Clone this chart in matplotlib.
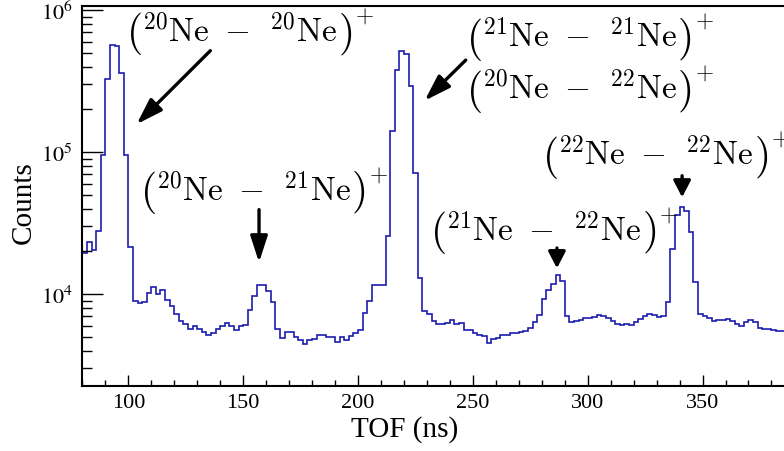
import numpy as np
import matplotlib
matplotlib.use("Agg")
import matplotlib.pyplot as plt
from matplotlib.ticker import LogLocator, MultipleLocator, FixedLocator, FuncFormatter
from matplotlib.transforms import IdentityTransform

plt.rcParams['font.family'] = ['Liberation Serif', 'DejaVu Serif']

# TOF histogram, 2 ns bins starting at 80 ns
bin_edges = np.arange(80, 388, 2)
counts = [
    19500, 23100, 20400, 27900, 95700, 327000, 565000, 555000, 360000, 95700,
    21300, 8980, 8640, 8830, 10100, 11150, 10000, 10670, 9110, 8270,
    7230, 6490, 6150, 5670, 5980, 5670, 5430, 5140, 5310, 5670,
    5980, 6250, 5980, 5610, 5920, 6050, 7720, 9630, 11570, 11500,
    10500, 8830, 5670, 4880, 5370, 5370, 4950, 4770, 4450, 4770,
    4800, 5170, 5170, 4950, 4950, 4620, 5000, 4770, 5100, 5300,
    5550, 7350, 8970, 11570, 11570, 11570, 25500, 141000, 380000, 517000,
    489000, 290000, 71100, 12900, 7630, 7230, 6490, 6150, 6150, 6220,
    6590, 6150, 6220, 5610, 5540, 5310, 5180, 5060, 4520, 4820,
    4870, 5140, 5140, 5310, 5310, 5430, 5520, 5730, 6320, 7110,
    9220, 10670, 11820, 13680, 12410, 6960, 6320, 6420, 6590, 6740,
    6760, 6850, 7110, 6960, 6740, 6420, 6150, 6050, 6150, 6050,
    6380, 6670, 6960, 7230, 7150, 6930, 7030, 8830, 20750, 36000,
    41300, 38200, 27300, 12090, 7230, 6960, 6740, 6490, 6560, 6560,
    6620, 6490, 6150, 5990, 6350, 6560, 6350, 5760, 5670, 5670,
    5600, 5520, 5450,
]

# peak labels (inside the big parentheses), anchored at left edge / paren centre
labels = [
    r'${}^{20}\mathrm{Ne}\,\,-\;\,{}^{20}\mathrm{Ne}$',
    r'${}^{20}\mathrm{Ne}\,\,-\;\,{}^{21}\mathrm{Ne}$',
    r'${}^{21}\mathrm{Ne}\,\,-\;\,{}^{21}\mathrm{Ne}$',
    r'${}^{20}\mathrm{Ne}\,\,-\;\,{}^{22}\mathrm{Ne}$',
    r'${}^{21}\mathrm{Ne}\,\,-\;\,{}^{22}\mathrm{Ne}$',
    r'${}^{22}\mathrm{Ne}\,\,-\;\,{}^{22}\mathrm{Ne}$',
]
label_pos = [(99.2, 6.9e5), (105.0, 5.27e4), (246.9, 6.35e5),
             (246.9, 2.73e5), (231.3, 2.76e4), (280.3, 9.37e4)]

# arrows: (tail, tip, head length)
arrows = [((135.7, 5.17e5), (103.6, 1.57e5), 0.8),
          ((156.9, 3.93e4), (156.9, 1.67e4), 0.8),
          ((246.9, 4.44e5), (229.0, 2.30e5), 0.8),
          ((286.6, 2.11e4), (286.6, 1.52e4), 0.5),
          ((341.1, 6.81e4), (341.1, 4.80e4), 0.5)]

fig = plt.figure(figsize=(7.84, 4.52), dpi=100)
ax = fig.add_axes([0.1051, 0.1431, 0.9375, 0.842])

ax.stairs(counts, bin_edges, baseline=None, color='#1c1cb0', lw=1.2)

ax.set_yscale('log')
ax.set_xlim(80, 400)
ax.set_ylim(2240, 1.072e6)

ax.xaxis.set_major_locator(FixedLocator([100, 150, 200, 250, 300, 350]))
ax.xaxis.set_minor_locator(MultipleLocator(10))
ax.yaxis.set_major_locator(LogLocator(base=10))
ax.yaxis.set_minor_locator(LogLocator(base=10, subs=np.arange(2, 10)))
ax.yaxis.set_minor_formatter(FuncFormatter(lambda v, p: ''))
ax.yaxis.set_major_formatter(FuncFormatter(lambda v, p: r'$10^{%d}$' % round(np.log10(v))))

ax.tick_params(axis='both', which='both', direction='in', top=False, right=False, width=1.0)
ax.tick_params(axis='y', which='major', length=15, pad=7, labelsize=16)
ax.tick_params(axis='y', which='minor', length=7.5)
ax.tick_params(axis='x', which='major', length=7.7, pad=5, labelsize=16)
ax.tick_params(axis='x', which='minor', length=4.1)
for lab in ax.get_yticklabels():
    lab.set_math_fontfamily('stix')

for s in ax.spines.values():
    s.set_linewidth(1.5)

ax.set_xlabel('TOF (ns)', fontsize=21, va='center')
ax.xaxis.set_label_coords(0.438, -0.11)
ax.set_ylabel('Counts', fontsize=21, va='center')
ax.yaxis.set_label_coords(-0.0795, 0.484)

for tail, tip, hl in arrows:
    ax.annotate('', xy=tip, xytext=tail,
                arrowprops=dict(arrowstyle='-|>,head_length=%g,head_width=0.26' % hl,
                                color='black', lw=2.4, mutation_scale=20,
                                shrinkA=0, shrinkB=0))

# build "( body )+" with tall parentheses, like ROOT's TLatex
fs_body = 24
fs_paren = 30
em = fs_body * fig.dpi / 72
fig.canvas.draw()
rend = fig.canvas.get_renderer()
ident = IdentityTransform()
for txt, (x, y) in zip(labels, label_pos):
    px, py = ax.transData.transform((x, y))
    lp = fig.text(px, py, r'$($', transform=ident, fontsize=fs_paren,
                  math_fontfamily='cm', ha='left', va='center')
    x1 = lp.get_window_extent(rend).x1
    body = fig.text(x1, py - 0.25 * em, txt, transform=ident, fontsize=fs_body,
                    math_fontfamily='cm', ha='left', va='baseline')
    x2 = body.get_window_extent(rend).x1
    rp = fig.text(x2 + 1, py, r'$)$', transform=ident, fontsize=fs_paren,
                  math_fontfamily='cm', ha='left', va='center')
    x3 = rp.get_window_extent(rend).x1
    fig.text(x3 + 3, py + 0.5 * em, r'$+$', transform=ident, fontsize=0.7 * fs_body,
             math_fontfamily='cm', ha='left', va='center')

fig.savefig('out.png', dpi=100)
